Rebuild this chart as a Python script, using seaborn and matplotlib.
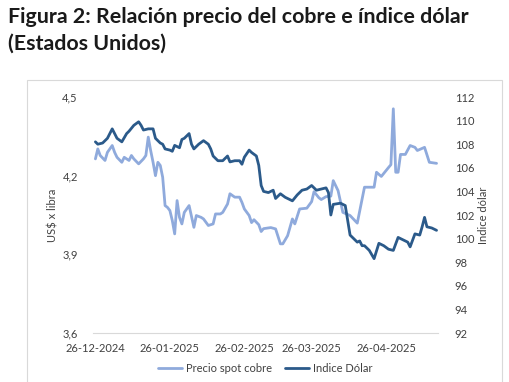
import pandas as pd
import numpy as np
import matplotlib.pyplot as plt
import matplotlib.dates as mdates
from matplotlib.ticker import FixedLocator, FuncFormatter
from matplotlib.patches import Rectangle
import seaborn as sns

# Copper spot price (US$ per pound), day offset from 26-12-2024
cobre_dias = [0, 1, 2, 4, 5, 7, 8, 9, 11, 12, 14, 15, 16, 18, 20, 21, 22, 23, 24, 25,
              26, 27, 28, 29, 30, 31, 32, 33, 34, 35, 36, 37, 39, 41, 42, 44, 45, 47, 49, 50,
              52, 53, 55, 56, 58, 60, 61, 62, 64, 65, 66, 68, 69, 70, 73, 75, 77, 78, 80, 82,
              83, 85, 88, 90, 91, 93, 94, 96, 98, 99, 101, 103, 106, 109, 112, 116, 117, 119, 122, 123,
              124, 125, 126, 127, 129, 131, 133, 134, 137, 139, 142]
cobre = [4.264, 4.302, 4.277, 4.258, 4.289, 4.315, 4.289, 4.270, 4.251, 4.270, 4.258, 4.277, 4.264, 4.245, 4.264, 4.277, 4.347, 4.296, 4.251, 4.200,
         4.251, 4.239, 4.194, 4.086, 4.079, 4.067, 4.029, 3.978, 4.105, 4.041, 4.016, 4.060, 4.086, 4.003, 4.048, 4.041, 4.035, 4.010, 4.016, 4.054,
         4.054, 4.060, 4.092, 4.131, 4.118, 4.118, 4.098, 4.073, 4.048, 4.021, 4.032, 4.013, 3.987, 3.998, 4.002, 3.997, 3.940, 3.940, 3.971, 4.035,
         4.016, 4.073, 4.076, 4.101, 4.139, 4.116, 4.109, 4.120, 4.122, 4.181, 4.143, 4.060, 4.048, 4.019, 4.156, 4.156, 4.213, 4.197, 4.231, 4.242,
         4.455, 4.213, 4.213, 4.281, 4.281, 4.315, 4.308, 4.296, 4.308, 4.251, 4.247]

# US dollar index, day offset from 26-12-2024
dolar_dias = [0, 1, 3, 5, 7, 8, 9, 11, 13, 14, 16, 18, 19, 20, 22, 24, 25, 27, 28, 29,
              31, 32, 33, 35, 36, 37, 39, 40, 41, 43, 45, 47, 48, 49, 51, 52, 53, 55, 56, 58,
              60, 61, 62, 64, 65, 67, 68, 69, 70, 72, 74, 75, 77, 79, 82, 84, 86, 88, 90, 92,
              94, 96, 97, 98, 99, 102, 104, 106, 109, 110, 111, 112, 114, 116, 118, 120, 122, 124, 126, 128,
              130, 131, 133, 135, 136, 137, 138, 140, 142]
dolar = [108.2, 108.0, 108.1, 108.5, 109.3, 108.9, 108.5, 108.2, 108.9, 109.1, 109.6, 109.9, 109.6, 109.2, 109.3, 109.3, 108.5, 108.1, 108.0, 107.6,
         107.5, 107.4, 107.9, 107.7, 108.4, 108.5, 108.9, 108.0, 107.6, 108.0, 108.3, 108.0, 107.6, 107.0, 106.6, 106.6, 106.6, 107.0, 106.5, 106.6,
         106.6, 106.3, 106.9, 107.5, 107.3, 107.0, 106.2, 104.5, 104.0, 103.9, 104.1, 103.4, 103.8, 103.5, 103.2, 103.7, 104.1, 104.2, 104.5, 104.1,
         104.2, 104.3, 103.9, 102.0, 102.9, 103.0, 102.8, 100.3, 99.7, 99.8, 99.4, 99.4, 99.0, 98.3, 99.6, 99.4, 99.1, 99.0, 100.1, 99.9,
         99.7, 99.3, 100.4, 100.3, 101.0, 101.8, 101.0, 100.9, 100.7]

tick_fechas = ['2024-12-26', '2025-01-26', '2025-02-26', '2025-03-26', '2025-04-26']

inicio = pd.Timestamp('2024-12-26')
df_cobre = pd.DataFrame({'fecha': inicio + pd.to_timedelta(cobre_dias, unit='D'), 'valor': cobre})
df_dolar = pd.DataFrame({'fecha': inicio + pd.to_timedelta(dolar_dias, unit='D'), 'valor': dolar})

sns.set_style('white')
plt.rcParams['font.family'] = ['Lato', 'DejaVu Sans']

col_cobre = '#8FAADC'
col_dolar = '#2B5A8A'
gris = '#404040'

fig = plt.figure(figsize=(5.1, 3.82), dpi=100)
# light frame of the chart area
fig.patches.append(Rectangle((27 / 510, -0.01), 475 / 510, 1 - 80 / 382 + 0.01, transform=fig.transFigure,
                             fill=False, edgecolor='#D9D9D9', linewidth=0.8))

ax = fig.add_axes([93 / 510, 1 - 333 / 382, 345 / 510, 236 / 382])
ax2 = ax.twinx()

sns.lineplot(data=df_cobre, x='fecha', y='valor', ax=ax, color=col_cobre, linewidth=2.0, label='Precio spot cobre', legend=False)
sns.lineplot(data=df_dolar, x='fecha', y='valor', ax=ax2, color=col_dolar, linewidth=2.0, label='Indice Dólar', legend=False)

ax.set_xlim(inicio - pd.Timedelta(days=1), inicio + pd.Timedelta(days=142.6))
ax.set_ylim(3.6, 4.5)
ax2.set_ylim(92, 112)

ax.yaxis.set_major_locator(FixedLocator([3.6, 3.9, 4.2, 4.5]))
ax.yaxis.set_major_formatter(FuncFormatter(lambda v, p: f'{v:.1f}'.replace('.', ',')))
ax2.yaxis.set_major_locator(FixedLocator(np.arange(92, 113, 2)))
ax.xaxis.set_major_locator(FixedLocator(mdates.date2num(pd.to_datetime(tick_fechas))))
ax.xaxis.set_major_formatter(mdates.DateFormatter('%d-%m-%Y'))

for a in (ax, ax2):
    for s in a.spines.values():
        s.set_visible(False)
    a.tick_params(length=0, labelsize=8, colors=gris)
    a.grid(False)
ax.spines['bottom'].set_visible(True)
ax.spines['bottom'].set_color('#D9D9D9')
ax.tick_params(axis='x', pad=7)
ax.tick_params(axis='y', pad=11)
ax2.tick_params(axis='y', pad=12)

ax.set_xlabel('')
ax.set_ylabel('US$ x libra', fontsize=8, color=gris, labelpad=3)
ax2.set_ylabel('Indice dólar', fontsize=8, color=gris, labelpad=3)

h1, l1 = ax.get_legend_handles_labels()
h2, l2 = ax2.get_legend_handles_labels()
fig.legend(h1 + h2, l1 + l2, loc='center', bbox_to_anchor=(265 / 510, 1 - 368 / 382), ncol=2, frameon=False,
           fontsize=8, handlelength=2.2, columnspacing=1.2, handletextpad=0.3, labelcolor=gris)

fig.text(8 / 510, 1 - 7 / 382, 'Figura 2: Relación precio del cobre e índice dólar\n(Estados Unidos)',
         ha='left', va='top', fontsize=15.4, fontweight='bold', color='#1A1A1A', linespacing=1.4)

fig.savefig('out.png', dpi=100, facecolor='white')
